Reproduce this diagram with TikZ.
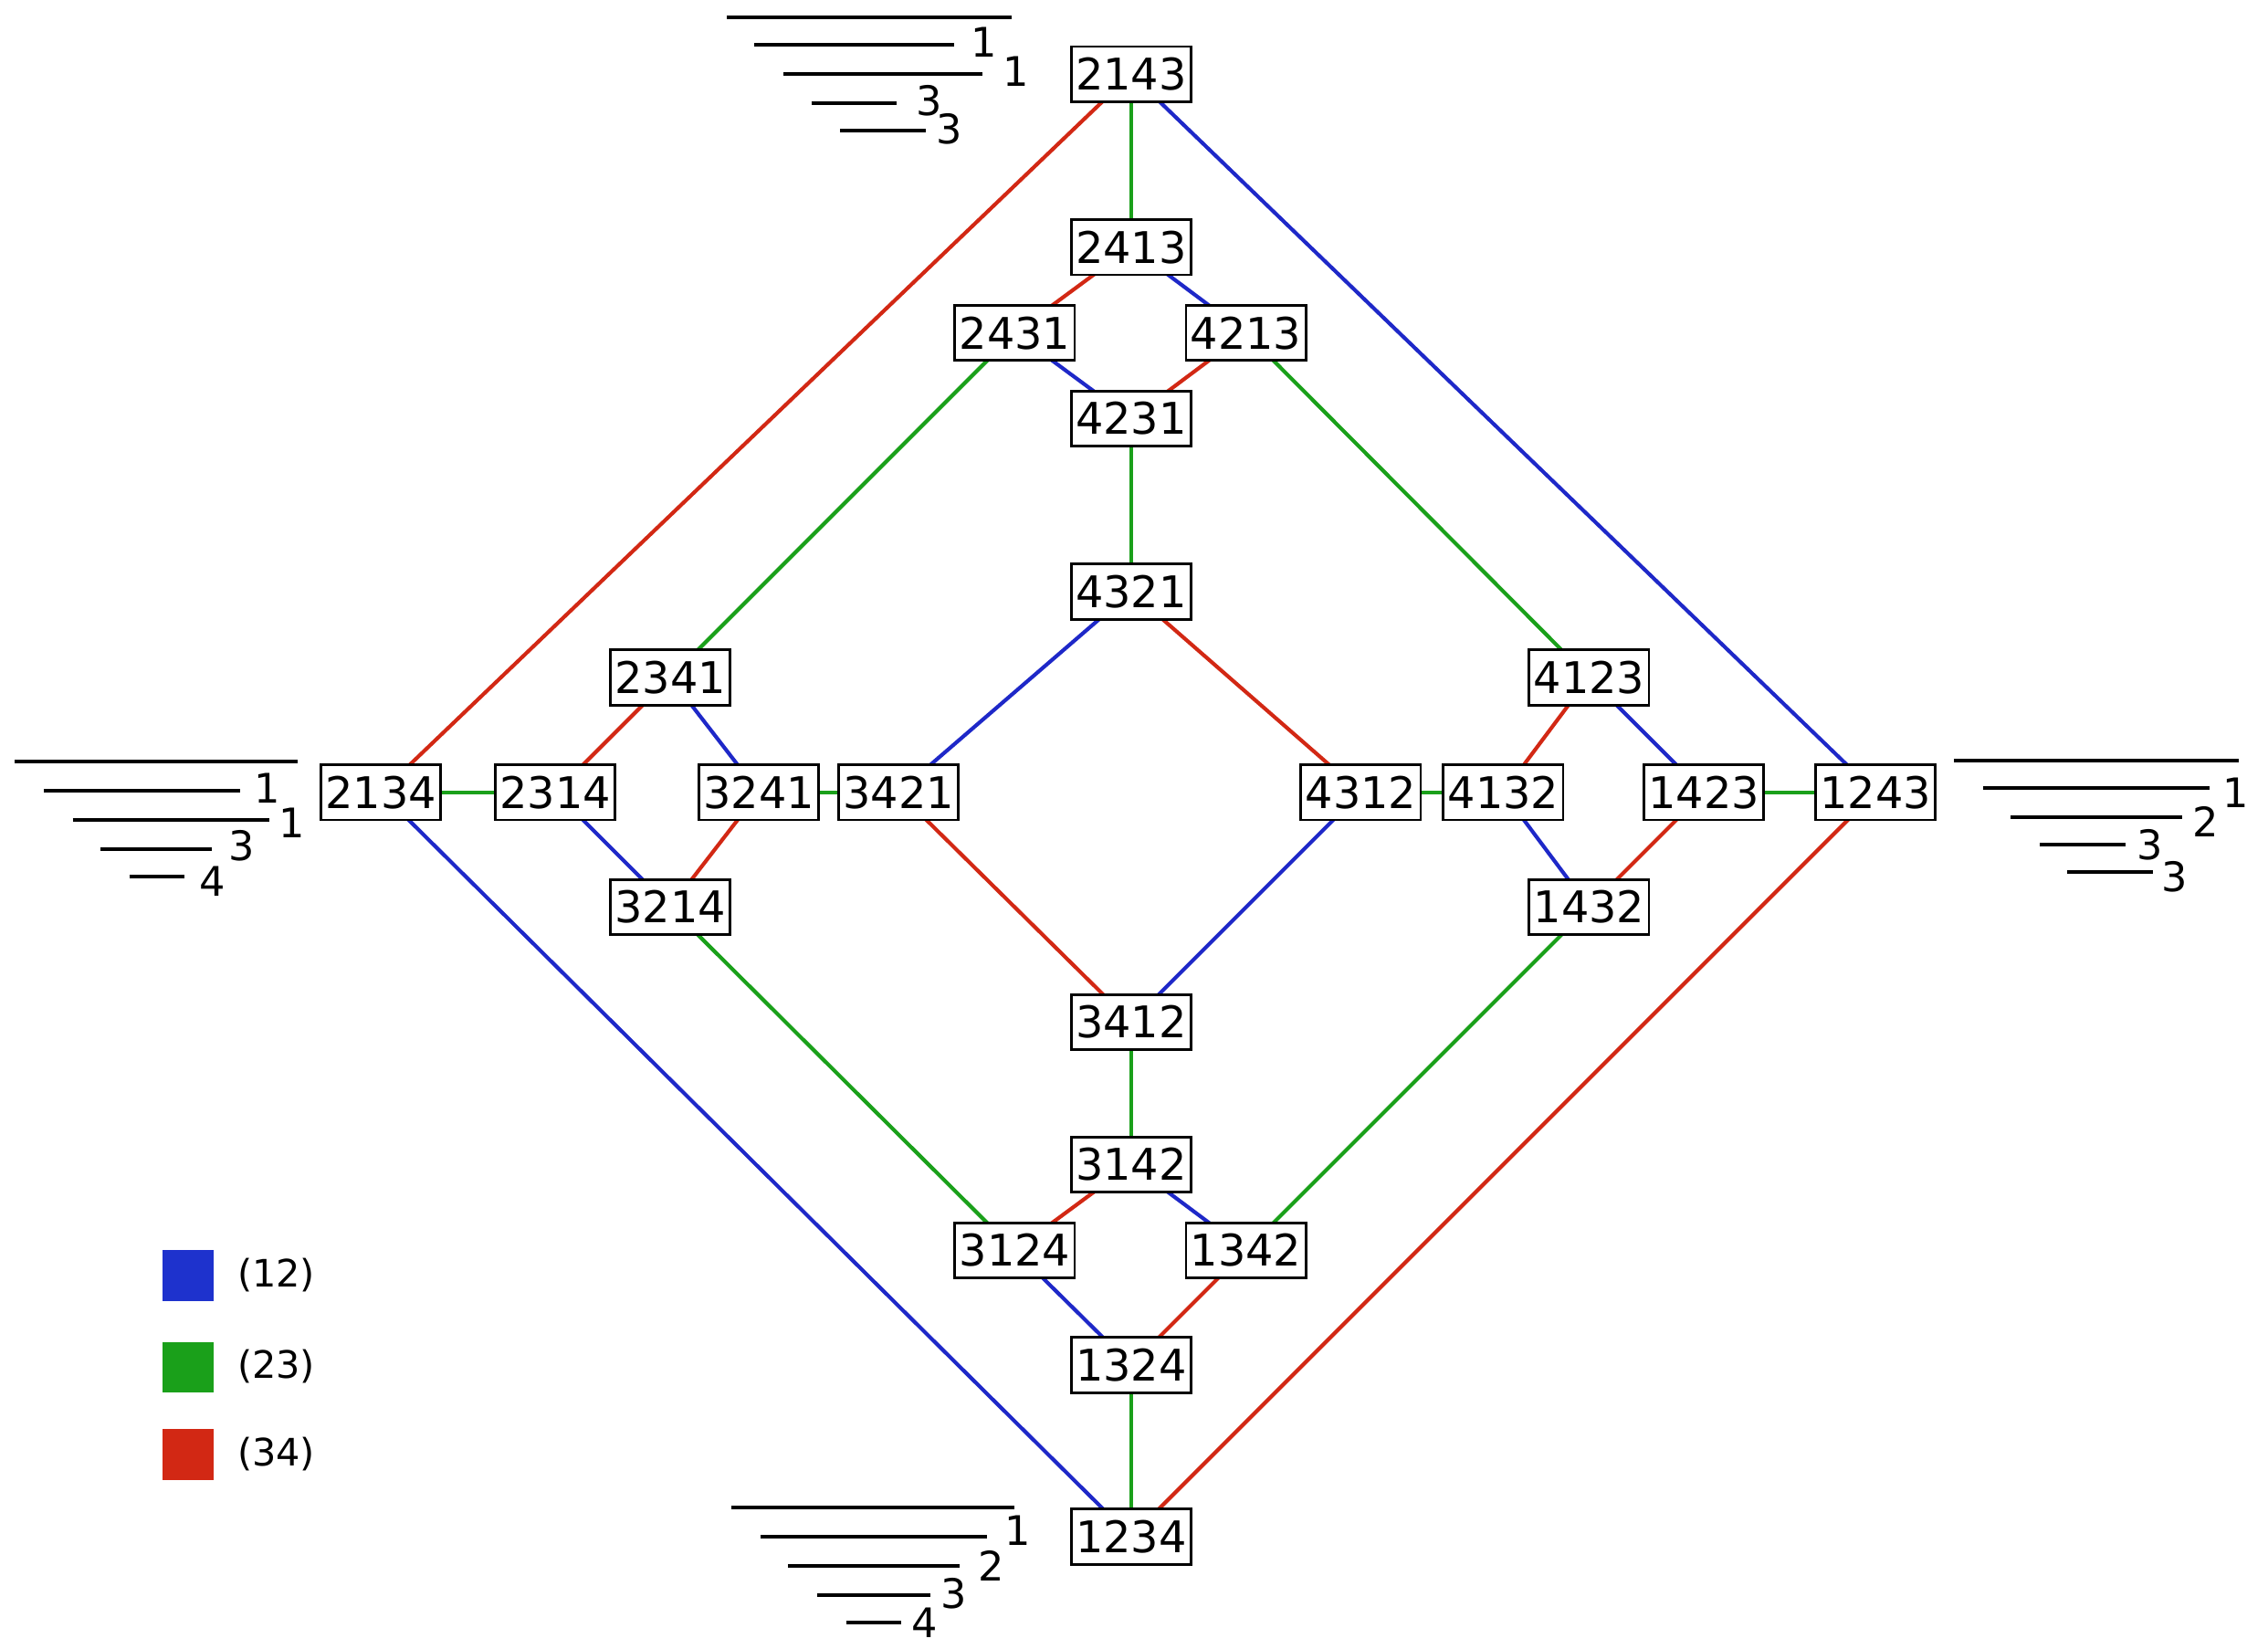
\documentclass[tikz,border=0pt]{standalone}
\usepackage{fontspec}
\setmainfont{DejaVu Sans}
\begin{document}
\begin{tikzpicture}[x=0.5pt,y=-0.5pt,
  perm/.style={draw,fill=white,line width=0.9pt,inner xsep=1.5pt,inner ysep=0pt,minimum height=19pt,font=\fontsize{15}{15}\selectfont},
  eB/.style={line width=1.3pt,draw={rgb,255:red,30;green,40;blue,200}},
  eG/.style={line width=1.3pt,draw={rgb,255:red,26;green,160;blue,26}},
  eR/.style={line width=1.3pt,draw={rgb,255:red,210;green,40;blue,20}},
  sl/.style={line width=1.2pt},
  lab/.style={inner sep=0pt,font=\fontsize{14}{14}\selectfont},
  leg/.style={inner sep=0pt,anchor=west,font=\fontsize{13}{13}\selectfont}]
\useasboundingbox (0,0) rectangle (1560,1134);
\definecolor{cB}{RGB}{30,50,205}\definecolor{cG}{RGB}{26,160,26}\definecolor{cR}{RGB}{210,40,20}
% nodes positions
\coordinate (p2143) at (778,51);
\coordinate (p2413) at (778,170);
\coordinate (p2431) at (698,229);
\coordinate (p4213) at (857,229);
\coordinate (p4231) at (778,288);
\coordinate (p4321) at (778,407);
\coordinate (p2341) at (461,466);
\coordinate (p4123) at (1093,466);
\coordinate (p2134) at (262,545);
\coordinate (p2314) at (382,545);
\coordinate (p3241) at (522,545);
\coordinate (p3421) at (618,545);
\coordinate (p4312) at (936,545);
\coordinate (p4132) at (1034,545);
\coordinate (p1423) at (1172,545);
\coordinate (p1243) at (1290,545);
\coordinate (p3214) at (461,624);
\coordinate (p1432) at (1093,624);
\coordinate (p3412) at (778,703);
\coordinate (p3142) at (778,801);
\coordinate (p3124) at (698,860);
\coordinate (p1342) at (857,860);
\coordinate (p1324) at (778,939);
\coordinate (p1234) at (778,1057);
% edges
\foreach \a/\b in {2143/2413,4231/4321,2431/2341,4213/4123,2134/2314,3241/3421,4312/4132,1423/1243,3214/3124,1432/1342,3412/3142,1324/1234}
  \draw[eG] (p\a) -- (p\b);
\foreach \a/\b in {2143/2134,2413/2431,4213/4231,4321/4312,2341/2314,3241/3214,4123/4132,1243/1234,1423/1432,3421/3412,3142/3124,1342/1324}
  \draw[eR] (p\a) -- (p\b);
\foreach \a/\b in {2143/1243,2413/4213,2431/4231,4321/3421,2341/3241,2314/3214,2134/1234,4123/1423,4132/1432,4312/3412,3142/1342,3124/1324}
  \draw[eB] (p\a) -- (p\b);
\foreach \n in {2143,2413,2431,4213,4231,4321,2341,4123,2134,2314,3241,3421,4312,4132,1423,1243,3214,1432,3412,3142,3124,1342,1324,1234}
  \node[perm] (n\n) at (p\n) {\n};
% top stack
\draw[sl] (500,12) -- (696,12);
\draw[sl] (519,31) -- (656,31); \node[lab] (t1) at (677,29) {1};
\draw[sl] (539,51) -- (676,51); \node[lab] (t2) at (699,49) {1};
\draw[sl] (558,71) -- (617,71); \node[lab] (t3) at (639,69) {3};
\draw[sl] (578,90) -- (637,90); \node[lab] (t4) at (653,89) {3};
% left stack
\draw[sl] (10,524) -- (205,524);
\draw[sl] (30,544) -- (165,544); \node[lab] (l1) at (184,542) {1};
\draw[sl] (50,564) -- (185,564); \node[lab] (l2) at (201,566) {1};
\draw[sl] (69,584) -- (146,584); \node[lab] (l3) at (166,582) {3};
\draw[sl] (89,603) -- (127,603); \node[lab] (l4) at (146,606) {4};
% right stack
\draw[sl] (1344,523) -- (1540,523);
\draw[sl] (1364,542) -- (1520,542); \node[lab] (r1) at (1538,545) {1};
\draw[sl] (1383,562) -- (1501,562); \node[lab] (r2) at (1517,565) {2};
\draw[sl] (1403,581) -- (1462,581); \node[lab] (r3) at (1479,581) {3};
\draw[sl] (1422,600) -- (1481,600); \node[lab] (r4) at (1496,603) {3};
% bottom stack
\draw[sl] (503,1037) -- (698,1037);
\draw[sl] (523,1057) -- (679,1057); \node[lab] (b1) at (700,1053) {1};
\draw[sl] (542,1077) -- (660,1077); \node[lab] (b2) at (682,1077) {2};
\draw[sl] (562,1097) -- (640,1097); \node[lab] (b3) at (656,1096) {3};
\draw[sl] (582,1116) -- (620,1116); \node[lab] (b4) at (636,1116) {4};
% legend
\fill[cB] (112,860) rectangle (147,895); \node[leg] (k1) at (163,877) {(12)};
\fill[cG] (112,923) rectangle (147,958); \node[leg] (k2) at (163,940) {(23)};
\fill[cR] (112,983) rectangle (147,1018); \node[leg] (k3) at (163,1000) {(34)};
\end{tikzpicture}
\end{document}
